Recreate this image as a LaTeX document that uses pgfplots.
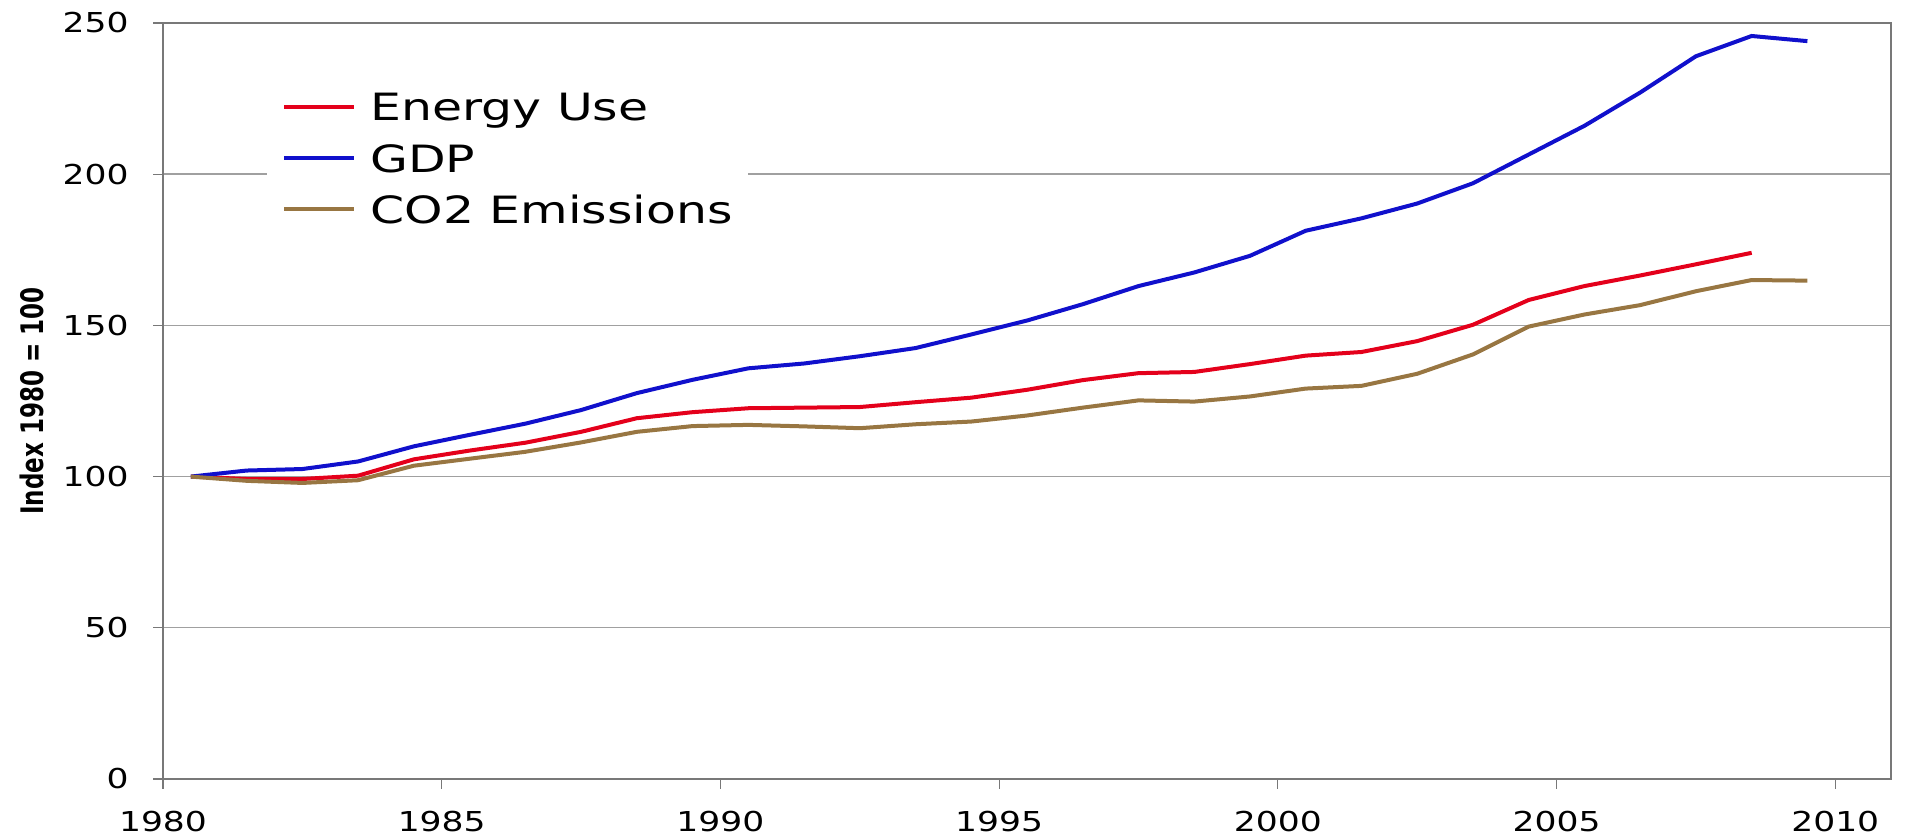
\documentclass[border=0pt]{standalone}
\usepackage{pgfplots}
\pgfplotsset{compat=1.18}
\usepackage{pgfplotstable}
\usepackage{fontspec}
\setmainfont{DejaVu Sans}
\usepackage{graphicx}
\definecolor{cEnergy}{RGB}{228,0,27}
\definecolor{cGDP}{RGB}{16,16,204}
\definecolor{cCO}{RGB}{152,118,66}
\definecolor{cGrid}{RGB}{160,160,160}
\definecolor{cAxis}{RGB}{120,120,120}
\newcommand\sx[1]{\scalebox{1.26}[1]{#1}}
\newcommand\lx[1]{\scalebox{1.30}[1]{#1}}

\pgfplotstableread{
x gdp co
1980.5 100 100
1981.5 102 98.6
1982.5 102.5 97.9
1983.5 105 98.8
1984.5 110 103.6
1985.5 113.8 105.9
1986.5 117.5 108.2
1987.5 122 111.3
1988.5 127.6 114.8
1989.5 132 116.7
1990.5 135.8 117.1
1991.5 137.4 116.6
1992.5 139.8 116.0
1993.5 142.5 117.3
1994.5 147 118.2
1995.5 151.6 120.2
1996.5 157 122.8
1997.5 163 125.2
1998.5 167.5 124.8
1999.5 173 126.5
2000.5 181.3 129.1
2001.5 185.4 130.0
2002.5 190.3 134.0
2003.5 197 140.4
2004.5 206.5 149.6
2005.5 216 153.6
2006.5 227 156.7
2007.5 239 161.3
2008.5 245.7 165.0
2009.5 244 164.8
}\datamain

\pgfplotstableread{
x energy
1980.5 100
1981.5 99.2
1982.5 99.2
1983.5 100.3
1984.5 105.7
1985.5 108.6
1986.5 111.2
1987.5 114.8
1988.5 119.3
1989.5 121.3
1990.5 122.6
1991.5 122.8
1992.5 123.0
1993.5 124.6
1994.5 126.1
1995.5 128.7
1996.5 131.9
1997.5 134.2
1998.5 134.6
1999.5 137.2
2000.5 140.0
2001.5 141.2
2002.5 144.8
2003.5 150.2
2004.5 158.4
2005.5 163.0
2006.5 166.5
2007.5 170.2
2008.5 174.0
}\dataenergy

\begin{document}
\begin{tikzpicture}
\useasboundingbox (-81.5pt,-29.5pt) rectangle (881.5pt,389.5pt);
\begin{axis}[
  at={(0,0)}, anchor=south west,
  scale only axis,
  width=864pt, height=378pt,
  xmin=1980, xmax=2011,
  ymin=0, ymax=250,
  xtick={1980,1985,...,2010},
  xticklabels={\sx{1980},\sx{1985},\sx{1990},\sx{1995},\sx{2000},\sx{2005},\sx{2010}},
  ytick={0,50,...,250},
  yticklabels={\sx{0},\sx{50},\sx{100},\sx{150},\sx{200},\sx{250}},
  tick pos=left,
  tick align=outside,
  major tick length=5pt,
  tick style={draw=cAxis, line width=0.6pt},
  axis line style={draw=cAxis, line width=1.1pt},
  ymajorgrids,
  major grid style={draw=cGrid, line width=0.7pt},
  ticklabel style={font=\fontsize{13.7}{16}\selectfont},
  yticklabel style={anchor=east, inner sep=0pt, xshift=-12pt},
  xticklabel style={anchor=north, inner sep=0pt, yshift=-11pt},
  ylabel={\scalebox{1}[1.35]{\fontsize{11.5}{14}\selectfont\bfseries Index 1980 = 100}},
  ylabel style={at={(axis description cs:-0.0757,0.5)}, anchor=center},
  legend style={
    at={(axis description cs:0.0602,0.923)}, anchor=north west,
    fill=white, draw=none, inner xsep=7.5pt, inner ysep=6pt,
    font=\fontsize{18.8}{22}\selectfont,
    row sep=7.9pt,
    nodes={inner sep=0pt, text height=13.7pt, text depth=4pt},
  },
  legend cell align=left,
  legend image code/.code={\draw[#1] (0pt,2.2pt) -- (35pt,2.2pt);},
  legend style={column sep=7pt},
]
\addplot[cEnergy, line width=2pt] table[x=x, y=energy] {\dataenergy};
\addlegendentry{\lx{Energy Use}}
\addplot[cGDP, line width=2pt] table[x=x, y=gdp] {\datamain};
\addlegendentry{\lx{GDP}}
\addplot[cCO, line width=2pt] table[x=x, y=co] {\datamain};
\addlegendentry{\lx{CO2 Emissions}}
\end{axis}
\end{tikzpicture}
\end{document}
